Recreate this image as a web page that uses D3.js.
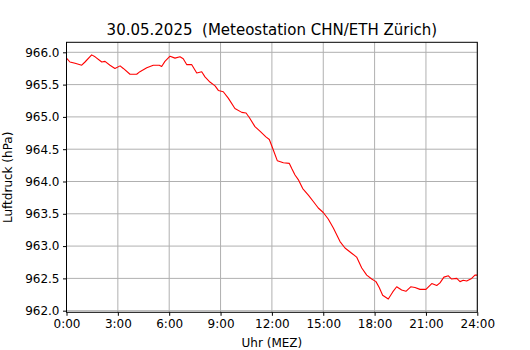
<!DOCTYPE html>
<html>
<head>
<meta charset="utf-8">
<script src="https://cdn.jsdelivr.net/npm/d3@7"></script>
<style>
  body { margin: 0; background: #fff; }
  svg { display: block; font-family: "DejaVu Sans", sans-serif; }
</style>
</head>
<body>
<svg width="530" height="350"></svg>
<script>
const titleText = "30.05.2025  (Meteostation CHN/ETH Zürich)";
const xLabel = "Uhr (MEZ)";
const yLabel = "Luftdruck (hPa)";

// time of day in hours
const hours = [
  0, 0.20, 0.50, 0.89, 1.08, 1.47, 1.67, 2.06, 2.25, 2.54, 2.83, 3.13, 3.32, 3.71,
  4.10, 4.29, 4.69, 5.07, 5.42, 5.56, 5.75, 6.05, 6.34, 6.63, 6.82, 7.02, 7.31,
  7.61, 7.90, 8.09, 8.38, 8.68, 8.87, 9.16, 9.45, 9.84, 10.24, 10.49, 10.68, 11.01,
  11.30, 11.65, 11.85, 12.05, 12.32, 12.67, 13.02, 13.16, 13.35, 13.54, 13.80,
  14.13, 14.42, 14.71, 15.00, 15.29, 15.59, 15.98, 16.27, 16.66, 16.95, 17.25,
  17.54, 17.83, 18.08, 18.27, 18.47, 18.80, 19.06, 19.29, 19.58, 19.83, 20.11,
  20.36, 20.65, 21.00, 21.34, 21.63, 21.82, 22.05, 22.31, 22.50, 22.80, 22.99,
  23.18, 23.38, 23.67, 23.86, 24.0
];
// air pressure in hPa
const pressure = [
  965.91, 965.85, 965.83, 965.80, 965.85, 965.96, 965.93, 965.85, 965.86, 965.80, 965.75, 965.79, 965.75, 965.66,
  965.66, 965.70, 965.76, 965.80, 965.80, 965.78, 965.86, 965.94, 965.91, 965.93, 965.90, 965.81, 965.81,
  965.68, 965.70, 965.62, 965.54, 965.48, 965.41, 965.39, 965.29, 965.13, 965.07, 965.06, 964.99, 964.85,
  964.78, 964.69, 964.65, 964.51, 964.32, 964.29, 964.28, 964.20, 964.10, 964.03, 963.89,
  963.79, 963.69, 963.59, 963.52, 963.42, 963.28, 963.07, 962.97, 962.89, 962.83, 962.66,
  962.55, 962.49, 962.45, 962.36, 962.24, 962.18, 962.29, 962.37, 962.32, 962.30, 962.37,
  962.36, 962.33, 962.33, 962.42, 962.39, 962.43, 962.52, 962.54, 962.49, 962.50, 962.45,
  962.47, 962.46, 962.50, 962.55, 962.55
];
const xTicks = [0, 3, 6, 9, 12, 15, 18, 21, 24];
const yTicks = [962.0, 962.5, 963.0, 963.5, 964.0, 964.5, 965.0, 965.5, 966.0];

const svg = d3.select("svg");
const margin = { left: 66.5, right: 477.3, top: 42.3, bottom: 312.3 };

const x = d3.scaleLinear().domain([0, 24]).range([margin.left, margin.right]);
const y = d3.scaleLinear().domain([961.975, 966.155]).range([margin.bottom, margin.top]);

// grid
svg.append("g")
  .selectAll("line")
  .data(xTicks)
  .join("line")
  .attr("x1", d => x(d)).attr("x2", d => x(d))
  .attr("y1", margin.top).attr("y2", margin.bottom)
  .attr("stroke", "#b0b0b0").attr("stroke-width", 1);

svg.append("g")
  .selectAll("line")
  .data(yTicks)
  .join("line")
  .attr("x1", margin.left).attr("x2", margin.right)
  .attr("y1", d => y(d)).attr("y2", d => y(d))
  .attr("stroke", "#b0b0b0").attr("stroke-width", 1);

// line
const line = d3.line()
  .x((d, i) => x(hours[i]))
  .y(d => y(d));

svg.append("path")
  .datum(pressure)
  .attr("d", line)
  .attr("fill", "none")
  .attr("stroke", "red")
  .attr("stroke-width", 1.1)
  .attr("stroke-linejoin", "round");

// frame
svg.append("rect")
  .attr("x", margin.left).attr("y", margin.top)
  .attr("width", margin.right - margin.left)
  .attr("height", margin.bottom - margin.top)
  .attr("fill", "none").attr("stroke", "black").attr("stroke-width", 1);

// axes
const xAxis = d3.axisBottom(x)
  .tickValues(xTicks)
  .tickFormat(d => d + ":00")
  .tickSize(3.5).tickPadding(3.5);

const yAxis = d3.axisLeft(y)
  .tickValues(yTicks)
  .tickFormat(d3.format(".1f"))
  .tickSize(3.5).tickPadding(3.5);

svg.append("g")
  .attr("transform", `translate(0, ${margin.bottom})`)
  .call(xAxis)
  .call(g => g.select(".domain").remove())
  .call(g => g.selectAll("text").attr("font-size", 12).attr("font-family", "DejaVu Sans").attr("fill", "#000"));

svg.append("g")
  .attr("transform", `translate(${margin.left}, 0)`)
  .call(yAxis)
  .call(g => g.select(".domain").remove())
  .call(g => g.selectAll("text").attr("font-size", 12).attr("font-family", "DejaVu Sans").attr("fill", "#000"));

// labels
svg.append("text")
  .attr("x", (margin.left + margin.right) / 2)
  .attr("y", 35)
  .attr("text-anchor", "middle")
  .attr("font-size", 15)
  .style("white-space", "pre")
  .text(titleText);

svg.append("text")
  .attr("x", (margin.left + margin.right) / 2)
  .attr("y", 347)
  .attr("text-anchor", "middle")
  .attr("font-size", 12)
  .text(xLabel);

svg.append("text")
  .attr("transform", `translate(12, ${(margin.top + margin.bottom) / 2}) rotate(-90)`)
  .attr("text-anchor", "middle")
  .attr("font-size", 12)
  .text(yLabel);
</script>
</body>
</html>
